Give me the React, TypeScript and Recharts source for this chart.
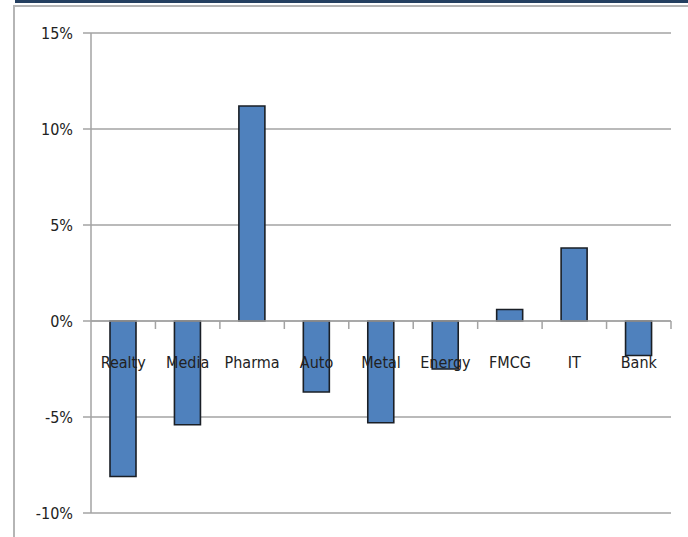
import { Bar, BarChart, CartesianGrid, ReferenceLine, XAxis, YAxis } from "recharts";

const sectors = ["Realty", "Media", "Pharma", "Auto", "Metal", "Energy", "FMCG", "IT", "Bank"];
const returns = [-8.1, -5.4, 11.2, -3.7, -5.3, -2.5, 0.6, 3.8, -1.8];
const yTicks = [-10, -5, 0, 5, 10, 15];

const rows = sectors.map((sector, i) => ({ sector, value: returns[i] }));

const font = "'DejaVu Sans Condensed', 'DejaVu Sans', sans-serif";
const gridColor = "#a3a3a3";

// zero line drawn as the category axis, with its tick marks and labels
function ZeroAxis(props: any) {
  const { x1, y1, x2 } = props;
  const step = (x2 - x1) / sectors.length;
  return (
    <g>
      <line x1={x1} y1={y1} x2={x2} y2={y1} stroke={gridColor} strokeWidth={1.5} />
      {sectors.map((_, i) => (
        <line
          key={"t" + i}
          x1={x1 + step * (i + 1)}
          x2={x1 + step * (i + 1)}
          y1={y1}
          y2={y1 + 8}
          stroke={gridColor}
          strokeWidth={1.5}
        />
      ))}
      {sectors.map((s, i) => (
        <text
          key={s}
          x={x1 + step * (i + 0.5)}
          y={y1 + 47}
          textAnchor="middle"
          fontFamily={font}
          fontSize={16}
          fill="#222"
        >
          {s}
        </text>
      ))}
    </g>
  );
}

export default function App() {
  return (
    <div style={{ position: "absolute", top: 0, left: 0, width: 688, height: 537, background: "#fff", overflow: "hidden" }}>
      <div style={{ position: "absolute", top: 0, left: 15, right: 0, height: 3, background: "#243f60" }} />
      <div
        style={{
          position: "absolute",
          top: 5,
          left: 13,
          width: 700,
          height: 600,
          borderTop: "2px solid #b5b5b5",
          borderLeft: "2px solid #b5b5b5",
        }}
      />
      <div style={{ position: "absolute", top: 0, left: 0 }}>
        <BarChart width={688} height={537} data={rows} margin={{ top: 33, right: 17, left: 0, bottom: 24 }}>
          <CartesianGrid horizontal vertical={false} stroke={gridColor} strokeWidth={1.5} />
          <XAxis dataKey="sector" hide />
          <YAxis
            width={91}
            domain={[-10, 15]}
            ticks={yTicks}
            interval={0}
            tickFormatter={(v) => `${v}%`}
            tickSize={8}
            tickMargin={10}
            stroke={gridColor}
            strokeWidth={1.5}
            tick={{ fill: "#222", fontSize: 16, fontFamily: font }}
            allowDataOverflow
          />
          <Bar dataKey="value" fill="#4f81bd" stroke="#1a1f26" strokeWidth={1.6} barSize={26} isAnimationActive={false} />
          <ReferenceLine y={0} shape={ZeroAxis} />
        </BarChart>
      </div>
    </div>
  );
}
